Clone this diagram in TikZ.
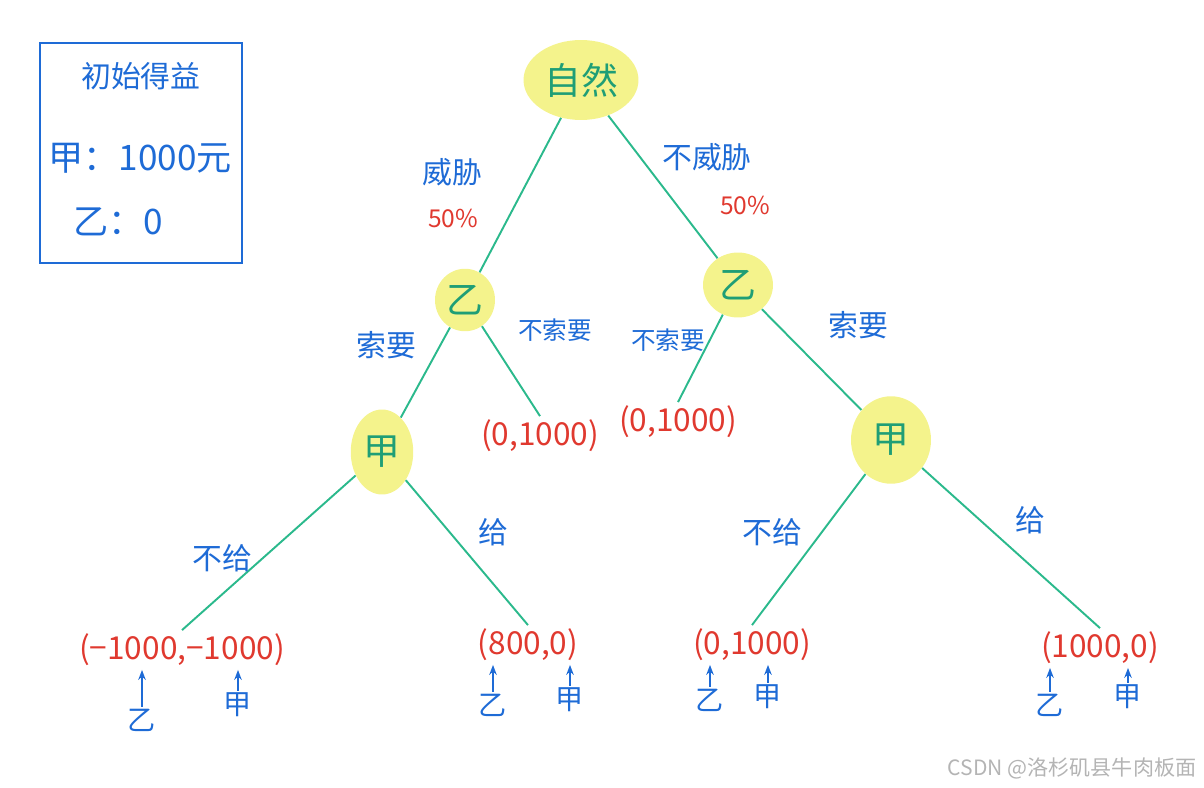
\documentclass[tikz,border=0pt]{standalone}
\usepackage{fontspec}
\setmainfont{Noto Sans CJK SC}
\usepackage{tikz}
\usetikzlibrary{arrows.meta, shapes.geometric}
\definecolor{hlyellow}{HTML}{F4F38C}
\definecolor{edgegreen}{HTML}{2BB98C}
\definecolor{playertext}{HTML}{1F9E76}
\definecolor{labelblue}{HTML}{1E6BD6}
\definecolor{payred}{HTML}{E0392F}
\definecolor{markgray}{HTML}{B4B4B4}
\tikzset{
    player/.style={ellipse, fill=hlyellow, text=playertext, inner sep=0pt,
    font=\fontsize{21}{23}\selectfont},
    payoff/.style={text=payred, inner sep=2pt, font=\fontsize{18}{20}\selectfont},
    movelbl/.style={text=labelblue, font=\fontsize{17}{19}\selectfont},
    problbl/.style={text=payred, font=\fontsize{14}{16}\selectfont},
    whomark/.style={text=labelblue, inner sep=1pt, font=\fontsize{16}{18}\selectfont},
    boxtext/.style={text=labelblue, font=\fontsize{17}{19}\selectfont},
    branch/.style={draw=edgegreen, line width=1.1pt},
    pointer/.style={-{Stealth[length=2mm]}, labelblue, line width=1pt},
}

\begin{document}
\begin{tikzpicture}[x=0.02cm, y=-0.02cm]
\useasboundingbox (0,0) rectangle (1204,788);

% =========================================================
% Initial payoffs box
% =========================================================

        \draw[labelblue, line width=1pt] (40,43) rectangle (242,263);
        \node[boxtext] (title) at (141,76)  {初始得益};
        \node[boxtext, font=\fontsize{20}{22}\selectfont] (startA) at (140,158) {甲：1000元};
        \node[boxtext, font=\fontsize{20}{22}\selectfont] (startB) at (118,222) {乙：0};

% =========================================================
% Players
% =========================================================

        \node[player, minimum width=2.3cm, minimum height=1.6cm] (nature) at (581,80) {自然};
        \node[player, minimum width=1.2cm, minimum height=1.25cm] (yiL) at (465,300) {乙};
        \node[player, minimum width=1.4cm, minimum height=1.3cm] (yiR) at (738,285) {乙};
        \node[player, minimum width=1.25cm, minimum height=1.7cm] (jiaL) at (382,452) {甲};
        \node[player, minimum width=1.6cm, minimum height=1.75cm] (jiaR) at (891,440) {甲};

% =========================================================
% Payoffs (乙, 甲)
% =========================================================

        \node[payoff] (pL)   at (540,436) {(0,1000)};
        \node[payoff] (pR)   at (678,422) {(0,1000)};
        \node[payoff] (pLL)  at (182,650) {(−1000,−1000)};
        \node[payoff] (pLR)  at (528,645) {(800,0)};
        \node[payoff] (pRL)  at (752,645) {(0,1000)};
        \node[payoff] (pRR)  at (1100,648) {(1000,0)};

% =========================================================
% Branches
% =========================================================

        \draw[branch] (nature) -- (yiL);
        \draw[branch] (nature) -- (yiR);
        \draw[branch] (yiL) -- (jiaL);
        \draw[branch] (yiL) -- (pL.north);
        \draw[branch] (yiR) -- (pR.north);
        \draw[branch] (yiR) -- (jiaR);
        \draw[branch] (jiaL) -- (pLL.north);
        \draw[branch] (jiaL) -- (pLR.north);
        \draw[branch] (jiaR) -- (pRL.north);
        \draw[branch] (jiaR) -- (pRR.north);

% branch labels
        \node[movelbl] (lThreat)   at (452,172) {威胁};
        \node[problbl] (pThreat)   at (453,218) {50\%};
        \node[movelbl] (lNoThreat) at (707,157) {不威胁};
        \node[problbl] (pNoThreat) at (745,205) {50\%};

        \node[movelbl] (lAskL)   at (386,345) {索要};
        \node[movelbl, font=\fontsize{14}{16}\selectfont] (lNoAskL) at (555,330) {不索要};
        \node[movelbl, font=\fontsize{14}{16}\selectfont] (lNoAskR) at (668,340) {不索要};
        \node[movelbl] (lAskR)   at (858,325) {索要};

        \node[movelbl] (lNoGiveL) at (222,558) {不给};
        \node[movelbl] (lGiveL)   at (493,532) {给};
        \node[movelbl] (lNoGiveR) at (772,532) {不给};
        \node[movelbl] (lGiveR)   at (1030,520) {给};

% =========================================================
% Whose payoff is which
% =========================================================

        \node[whomark] (wLL1) at (142,720) {乙};
        \node[whomark] (wLL2) at (238,705) {甲};
        \node[whomark] (wLR1) at (493,705) {乙};
        \node[whomark] (wLR2) at (570,700) {甲};
        \node[whomark] (wRL1) at (710,700) {乙};
        \node[whomark] (wRL2) at (768,697) {甲};
        \node[whomark] (wRR1) at (1050,705) {乙};
        \node[whomark] (wRR2) at (1128,697) {甲};

        \draw[pointer] (wLL1.north) -- (wLL1.north |- pLL.south);
        \draw[pointer] (wLL2.north) -- (wLL2.north |- pLL.south);
        \draw[pointer] (wLR1.north) -- (wLR1.north |- pLR.south);
        \draw[pointer] (wLR2.north) -- (wLR2.north |- pLR.south);
        \draw[pointer] (wRL1.north) -- (wRL1.north |- pRL.south);
        \draw[pointer] (wRL2.north) -- (wRL2.north |- pRL.south);
        \draw[pointer] (wRR1.north) -- (wRR1.north |- pRR.south);
        \draw[pointer] (wRR2.north) -- (wRR2.north |- pRR.south);

        \node[text=markgray, font=\fontsize{12}{14}\selectfont] (mark) at (1072,768) {CSDN @洛杉矶县牛肉板面};

\end{tikzpicture}
\end{document}
